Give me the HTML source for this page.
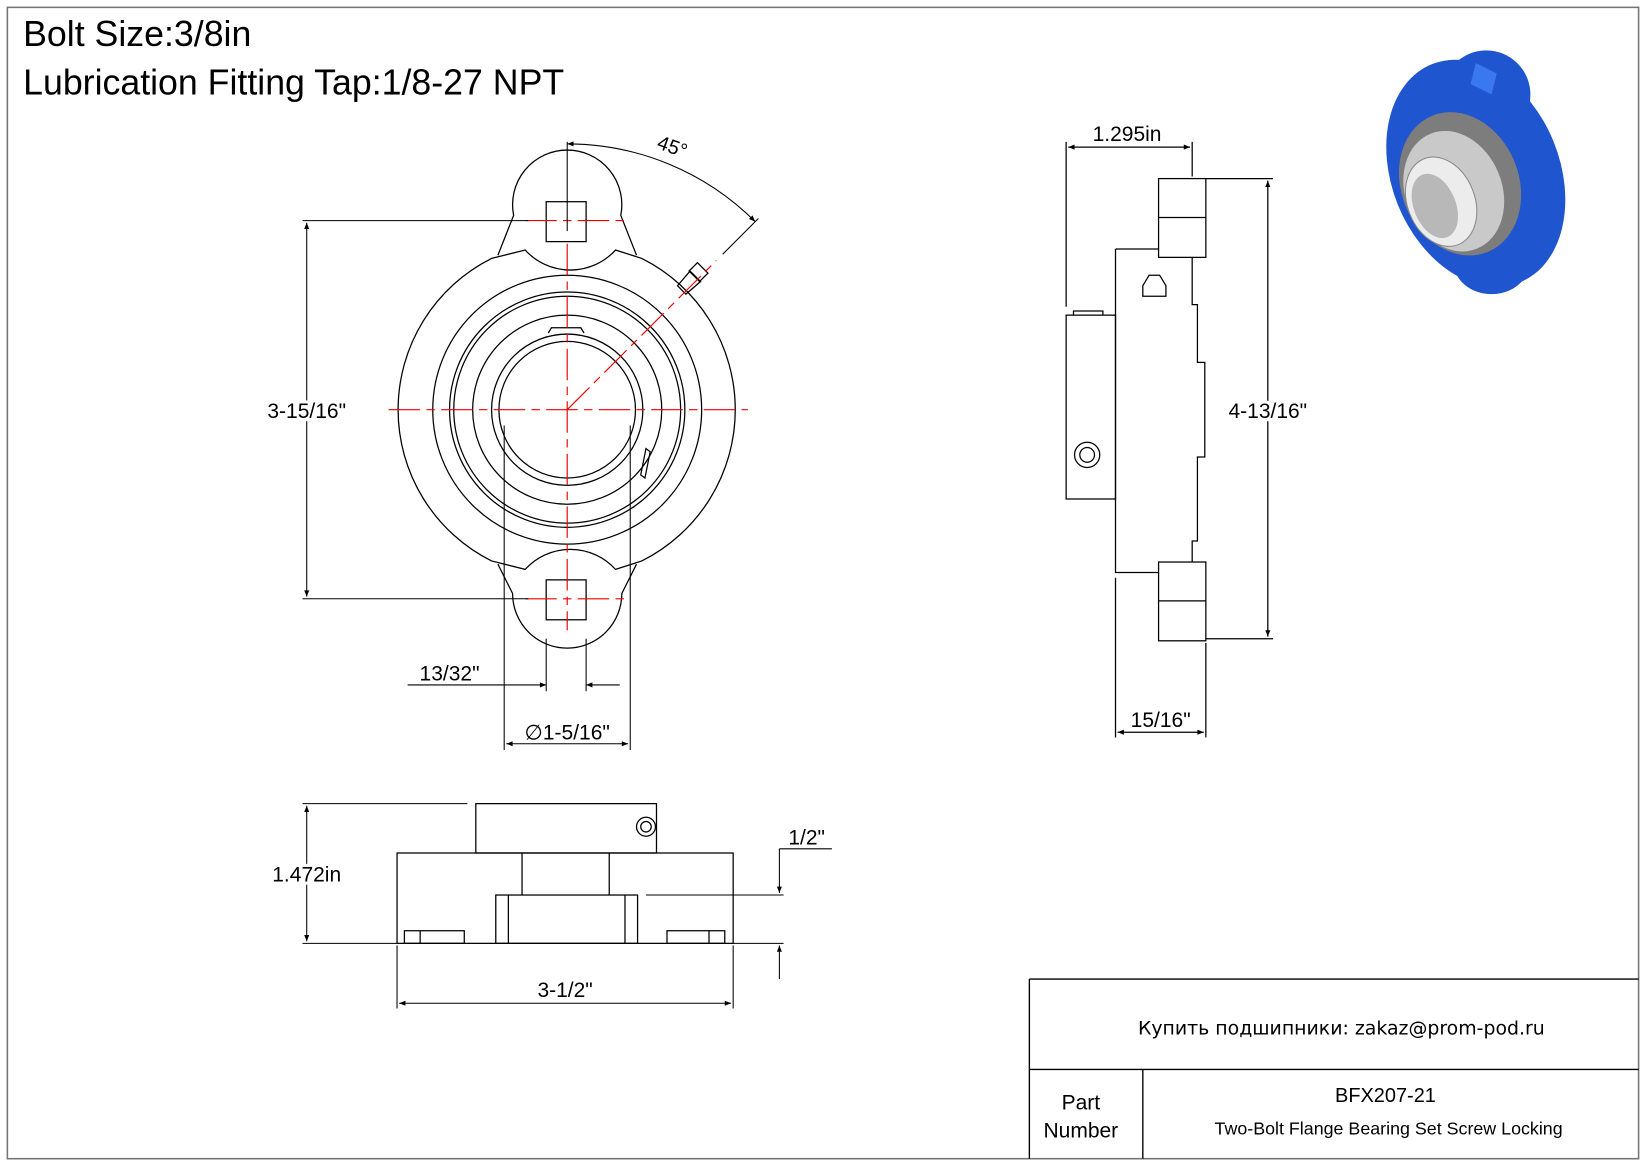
<!DOCTYPE html>
<html><head><meta charset="utf-8"><style>
html,body{margin:0;padding:0;background:#fff;}
svg{display:block;}
text{font-family:"Liberation Sans","DejaVu Sans",sans-serif;fill:#000;}
</style></head><body>
<svg width="1647" height="1165" viewBox="0 0 1568 1109" preserveAspectRatio="none" xmlns="http://www.w3.org/2000/svg">
<defs>
<marker id="a" viewBox="0 0 10 10" refX="10" refY="5" markerWidth="14" markerHeight="6" orient="auto-start-reverse" markerUnits="userSpaceOnUse"><path d="M0,1 L10,5 L0,9z" fill="#000"/></marker>
</defs>
<rect x="0" y="0" width="1568" height="1109" fill="#fff"/>
<rect x="7" y="7" width="1553" height="1096" fill="none" stroke="#777" stroke-width="1.5"/>
<text x="22" y="44" font-size="34">Bolt Size:3/8in</text>
<text x="22" y="90" font-size="34">Lubrication Fitting Tap:1/8-27 NPT</text>

<!-- table -->
<g stroke="#000" stroke-width="1.3" fill="none">
<line x1="980" y1="932" x2="1560" y2="932"/>
<line x1="980" y1="932" x2="980" y2="1103"/>
<line x1="980" y1="1018" x2="1560" y2="1018"/>
<line x1="1088" y1="1018" x2="1088" y2="1103"/>
</g>
<text x="1277" y="985" font-size="18" text-anchor="middle" style="font-family:'DejaVu Sans',sans-serif">Купить подшипники: zakaz@prom-pod.ru</text>
<text x="1029" y="1056" font-size="20" text-anchor="middle">Part</text>
<text x="1029" y="1083" font-size="20" text-anchor="middle">Number</text>
<text x="1319" y="1049" font-size="19" text-anchor="middle">BFX207-21</text>
<text x="1322" y="1080" font-size="17" text-anchor="middle">Two-Bolt Flange Bearing Set Screw Locking</text>

<!-- front view -->
<g stroke="#000" stroke-width="1.2" fill="none">
<path d="M468,246 L500,238 A58,58 0 0 0 586,238 L611,246 A161,161 0 0 1 611,534 L586,542 A58,58 0 0 0 500,542 L468,534 A161,161 0 0 1 468,246Z"/>
<path d="M474,243 L489,205 A52,52 0 1 1 591,205 L606,243"/>
<path d="M474,537 L488,565 A52,52 0 1 0 592,565 L606,537"/>
<circle cx="540" cy="390" r="128"/>
<circle cx="540" cy="390" r="112"/>
<circle cx="540" cy="390" r="108"/>
<circle cx="540" cy="390" r="90"/>
<circle cx="540" cy="390" r="72"/>
<circle cx="540" cy="390" r="65"/>
<rect x="520" y="192" width="38" height="38"/>
<rect x="520" y="552" width="38" height="38"/>
<path d="M522,317 l3,-5 h28 l3,5"/>
<path d="M610,452 l5,-25 l4,3 l-5,25z"/>
<path d="M645,272 l12,-14 l10,10 l-14,12z M656,258 l8,-8 l10,10 l-8,8z"/>
</g>
<g stroke="#e00" stroke-width="1.1" fill="none" stroke-dasharray="30,6,8,6">
<line x1="370" y1="390" x2="712" y2="390"/>
<line x1="540" y1="232" x2="540" y2="600"/>
<line x1="500" y1="210" x2="600" y2="210"/>
<line x1="500" y1="570" x2="600" y2="570"/>
<line x1="540" y1="390" x2="682" y2="248"/>
</g>
<g stroke="#000" stroke-width="1" fill="none">
<line x1="540" y1="135" x2="540" y2="220"/>
<path d="M540,137 A253,253 0 0 1 719,211" marker-start="url(#a)" marker-end="url(#a)"/>
<line x1="722" y1="208" x2="688" y2="242"/>
<line x1="288" y1="210" x2="503" y2="210"/>
<line x1="288" y1="570" x2="503" y2="570"/>
<line x1="292" y1="212" x2="292" y2="568" marker-start="url(#a)" marker-end="url(#a)"/>
<line x1="520" y1="608" x2="520" y2="658"/>
<line x1="558" y1="608" x2="558" y2="658"/>
<line x1="388" y1="652" x2="520" y2="652" marker-end="url(#a)"/>
<line x1="590" y1="652" x2="558" y2="652" marker-end="url(#a)"/>
<line x1="480" y1="405" x2="480" y2="714"/>
<line x1="600" y1="405" x2="600" y2="714"/>
<line x1="482" y1="708" x2="598" y2="708" marker-start="url(#a)" marker-end="url(#a)"/>
</g>
<text x="292" y="398" font-size="20" text-anchor="middle" style="paint-order:stroke" stroke="#fff" stroke-width="6">3-15/16"</text>
<text x="640" y="146" font-size="19" text-anchor="middle" transform="rotate(20 640 140)">45°</text>
<text x="428" y="648" font-size="20" text-anchor="middle">13/32"</text>
<text x="540" y="704" font-size="20" text-anchor="middle">∅1-5/16"</text>

<!-- side view -->
<g stroke="#000" stroke-width="1.2" fill="none">
<rect x="1103" y="170" width="45" height="75"/>
<line x1="1103" y1="207" x2="1148" y2="207"/>
<rect x="1103" y="535" width="45" height="75"/>
<line x1="1103" y1="572" x2="1148" y2="572"/>
<path d="M1062,237 H1103 M1135,245 V290 H1140 V345 H1147 V435 H1140 V515 H1135 V535 M1062,237 V545 H1103"/>
<rect x="1015" y="300" width="47" height="175"/>
<path d="M1022,300 v-4 h28 v4"/>
<circle cx="1035" cy="433" r="12"/><circle cx="1035" cy="433" r="7"/>
<path d="M1088,282 v-10 l6,-10 h10 l6,10 v10z"/>
<line x1="1015" y1="135" x2="1015" y2="292"/>
<line x1="1135" y1="135" x2="1135" y2="168"/>
<line x1="1017" y1="140" x2="1133" y2="140" marker-start="url(#a)" marker-end="url(#a)"/>
<line x1="1148" y1="170" x2="1212" y2="170"/>
<line x1="1148" y1="608" x2="1212" y2="608"/>
<line x1="1207" y1="172" x2="1207" y2="606" marker-start="url(#a)" marker-end="url(#a)"/>
<line x1="1062" y1="550" x2="1062" y2="702"/>
<line x1="1148" y1="612" x2="1148" y2="702"/>
<line x1="1064" y1="697" x2="1146" y2="697" marker-start="url(#a)" marker-end="url(#a)"/>
</g>
<text x="1073" y="134" font-size="20" text-anchor="middle">1.295in</text>
<text x="1207" y="398" font-size="20" text-anchor="middle" style="paint-order:stroke" stroke="#fff" stroke-width="6">4-13/16"</text>
<text x="1105" y="692" font-size="20" text-anchor="middle">15/16"</text>

<!-- bottom view -->
<g stroke="#000" stroke-width="1.2" fill="none">
<rect x="453" y="765" width="172" height="47"/>
<circle cx="615" cy="787" r="9"/><circle cx="615" cy="787" r="5"/>
<rect x="378" y="812" width="320" height="86"/>
<line x1="497" y1="812" x2="497" y2="852"/>
<line x1="580" y1="812" x2="580" y2="852"/>
<rect x="472" y="852" width="135" height="46"/>
<line x1="484" y1="852" x2="484" y2="898"/>
<line x1="595" y1="852" x2="595" y2="898"/>
<rect x="385" y="886" width="57" height="12"/>
<line x1="400" y1="886" x2="400" y2="898"/>
<rect x="635" y="886" width="55" height="12"/>
<line x1="675" y1="886" x2="675" y2="898"/>
</g>
<g stroke="#000" stroke-width="1" fill="none">
<line x1="288" y1="765" x2="445" y2="765"/>
<line x1="288" y1="898" x2="378" y2="898"/>
<line x1="292" y1="767" x2="292" y2="896" marker-start="url(#a)" marker-end="url(#a)"/>
<line x1="615" y1="852" x2="746" y2="852"/>
<line x1="698" y1="898" x2="746" y2="898"/>
<line x1="742" y1="808" x2="742" y2="850" marker-end="url(#a)"/>
<line x1="742" y1="932" x2="742" y2="900" marker-end="url(#a)"/>
<line x1="742" y1="808" x2="792" y2="808"/>
<line x1="378" y1="900" x2="378" y2="960"/>
<line x1="698" y1="900" x2="698" y2="960"/>
<line x1="380" y1="955" x2="696" y2="955" marker-start="url(#a)" marker-end="url(#a)"/>
</g>
<text x="292" y="839" font-size="20" text-anchor="middle" style="paint-order:stroke" stroke="#fff" stroke-width="6">1.472in</text>
<text x="768" y="804" font-size="20" text-anchor="middle">1/2"</text>
<text x="538" y="949" font-size="20" text-anchor="middle">3-1/2"</text>

<!-- 3D bearing -->
<g>
<ellipse cx="1405" cy="165" rx="80" ry="112" transform="rotate(-22 1405 165)" fill="#1f55cf"/>
<ellipse cx="1415" cy="90" rx="42" ry="42" fill="#1f55cf"/>
<ellipse cx="1420" cy="250" rx="36" ry="30" fill="#1f55cf"/>
<path d="M1405,60 L1425,70 L1420,90 L1400,80z" fill="#3a78f0"/>
<ellipse cx="1390" cy="175" rx="56" ry="70" transform="rotate(-22 1390 175)" fill="#7d7d7d"/>
<ellipse cx="1384" cy="182" rx="46" ry="59" transform="rotate(-22 1384 182)" fill="#c9c9c9"/>
<ellipse cx="1372" cy="192" rx="32" ry="44" transform="rotate(-22 1372 192)" fill="#ececec" stroke="#888"/>
<ellipse cx="1366" cy="196" rx="20" ry="32" transform="rotate(-22 1366 196)" fill="#b8b8b8"/>
</g>
</svg>
</body></html>
